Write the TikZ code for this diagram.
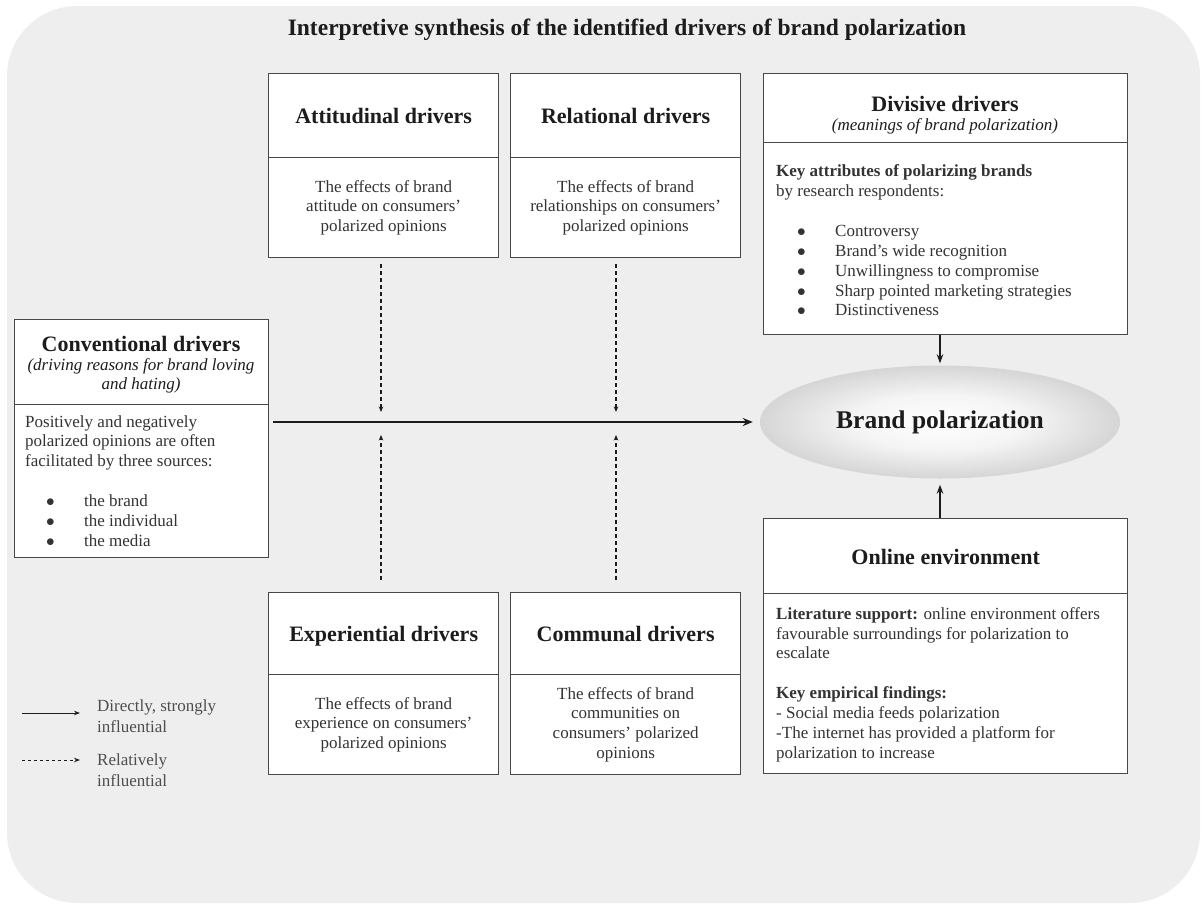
\documentclass[tikz,border=0pt]{standalone}
\usepackage{fontspec}
\setmainfont{Liberation Serif}
\usetikzlibrary{arrows.meta,shapes.geometric}
\definecolor{bgc}{HTML}{EEEEEE}
\definecolor{lnc}{HTML}{484848}
\definecolor{hdc}{HTML}{1C1C1C}
\definecolor{txc}{HTML}{333333}
\definecolor{lgc}{HTML}{4E4E4E}
\pgfdeclareradialshading{ellshade}{\pgfpoint{0bp}{0bp}}{color(0bp)=(white); color(12bp)=(white!96!black); color(50bp)=(black!40); color(100bp)=(black!40)}
\newcommand{\myitem}[1]{\hspace*{21pt}\makebox[38pt][l]{$\bullet$}#1}
\begin{document}
\begin{tikzpicture}[x=1pt,y=-1pt,
  hbox/.style={draw=lnc, line width=1.3pt, fill=white, inner sep=0pt, anchor=north west, align=center, text=hdc, text height=18pt, text depth=2pt, font=\fontsize{22}{25}\selectfont\bfseries},
  mbox/.style={draw=lnc, line width=1.3pt, fill=white, inner sep=0pt, anchor=north west, align=center, text=hdc, font=\fontsize{17}{19.5}\selectfont},
  bbox/.style={draw=lnc, line width=1.3pt, fill=white, inner sep=0pt, anchor=north west, align=center, text=txc, font=\fontsize{17}{19.8}\selectfont},
  bodytext/.style={inner sep=0pt, anchor=north west, align=left, text=txc, font=\fontsize{17}{19.9}\selectfont},
  legtext/.style={inner sep=0pt, anchor=west, align=left, text=lgc, font=\fontsize{17}{20.5}\selectfont},
  mainarrow/.style={draw=hdc, line width=2pt, -{Stealth[length=10pt,width=8pt]}},
  feed/.style={draw=hdc, line width=1.6pt, -{Stealth[length=9pt,width=6.5pt]}},
  relarrow/.style={draw=hdc, line width=1.1pt, dash pattern=on 4pt off 3pt, -{Stealth[length=5.5pt,width=4.5pt]}},
  legsolid/.style={draw=hdc, line width=1pt, -{Stealth[length=6pt,width=4.5pt]}},
  legdash/.style={draw=hdc, line width=1pt, dash pattern=on 3pt off 3pt, -{Stealth[length=6pt,width=4.5pt]}}
]
\useasboundingbox (0,0) rectangle (1203,906);
\fill[bgc, rounded corners=70pt] (7,6) rectangle (1200,903);

% title
\node[text=hdc, font=\fontsize{23.5}{26}\selectfont\bfseries, inner sep=0pt] (title) at (627,30) {Interpretive synthesis of the identified drivers of brand polarization};

% attitudinal
\node[hbox, minimum width=230pt, minimum height=84pt] (atth) at (268,73) {Attitudinal drivers};
\node[bbox, minimum width=230pt, minimum height=100pt] (attb) at (268,157) {The effects of brand\\attitude on consumers’\\polarized opinions};
% relational
\node[hbox, minimum width=230pt, minimum height=84pt] (relh) at (510,73) {Relational drivers};
\node[bbox, minimum width=230pt, minimum height=100pt] (relb) at (510,157) {The effects of brand\\relationships on consumers’\\polarized opinions};
% experiential
\node[hbox, minimum width=230pt, minimum height=82pt] (exph) at (268,592) {Experiential drivers};
\node[bbox, minimum width=230pt, minimum height=100pt] (expb) at (268,674) {The effects of brand\\experience on consumers’\\polarized opinions};
% communal
\node[hbox, minimum width=230pt, minimum height=82pt] (comh) at (510,592) {Communal drivers};
\node[bbox, minimum width=230pt, minimum height=100pt] (comb) at (510,674) {The effects of brand\\communities on\\consumers’ polarized\\opinions};

% divisive
\node[mbox, minimum width=364pt, minimum height=69pt] (divh) at (763,73) {};
\node[mbox, draw=none, fill=none, inner sep=0pt, anchor=center] (divht) at (945,115) {{\fontsize{22}{25}\selectfont\bfseries Divisive drivers}\\[-1pt]\itshape (meanings of brand polarization)};
\node[bbox, minimum width=364pt, minimum height=192pt] (divb) at (763,142) {};
\node[bodytext] (divt) at (776,164.5) {\textbf{Key attributes of polarizing brands}\\by research respondents:\\[19.9pt]\myitem{Controversy}\\\myitem{Brand’s wide recognition}\\\myitem{Unwillingness to compromise}\\\myitem{Sharp pointed marketing strategies}\\\myitem{Distinctiveness}};

% conventional
\node[mbox, minimum width=254pt, minimum height=85pt] (convh) at (14,319) {};
\node[mbox, draw=none, fill=none, inner sep=0pt, anchor=center] (convht) at (141,365) {{\fontsize{22}{25}\selectfont\bfseries Conventional drivers}\\[-1pt]\itshape (driving reasons for brand loving\\\itshape and hating)};
\node[bbox, minimum width=254pt, minimum height=153pt] (convb) at (14,404) {};
\node[bodytext] (convt) at (25,415) {Positively and negatively\\polarized opinions are often\\facilitated by three sources:\\[19.9pt]\myitem{the brand}\\\myitem{the individual}\\\myitem{the media}};

% online environment
\node[hbox, minimum width=364pt, minimum height=75pt] (onlh) at (763,518) {Online environment};
\node[bbox, minimum width=364pt, minimum height=180pt] (onlb) at (763,593) {};
\node[bodytext] (onlt) at (776,607) {\textbf{Literature support:} online environment offers\\favourable surroundings for polarization to\\escalate\\[19.9pt]\textbf{Key empirical findings:}\\- Social media feeds polarization\\-The internet has provided a platform for\\polarization to increase};

% brand polarization
\node[ellipse, minimum width=360pt, minimum height=113pt, inner sep=0pt, shading=ellshade, text=hdc, font=\fontsize{25.5}{28}\selectfont\bfseries] (ell) at (940,422) {Brand polarization};

% connectors
\coordinate (j1) at (381,422);
\coordinate (j2) at (616,422);
\draw[mainarrow, shorten <=4pt, shorten >=7pt] (convb.east |- ell.west) -- (ell.west);
\draw[relarrow, shorten <=6pt, shorten >=10pt] (j1 |- attb.south) -- (j1);
\draw[relarrow, shorten <=6pt, shorten >=10pt] (j2 |- relb.south) -- (j2);
\draw[relarrow, shorten <=12pt, shorten >=13pt] (j1 |- exph.north) -- (j1);
\draw[relarrow, shorten <=12pt, shorten >=13pt] (j2 |- comh.north) -- (j2);
\draw[feed, shorten >=2pt] (divb.south -| ell.north) -- (ell.north);
\draw[feed, shorten >=6pt] (onlh.north -| ell.south) -- (ell.south);

% legend
\coordinate (l1a) at (22,713);
\coordinate (l1b) at (80,713);
\coordinate (l2a) at (22,760);
\coordinate (l2b) at (80,760);
\draw[legsolid] (l1a) -- (l1b);
\draw[legdash] (l2a) -- (l2b);
\node[legtext] (l1t) at (97,716) {Directly, strongly\\influential};
\node[legtext] (l2t) at (97,770) {Relatively\\influential};
\end{tikzpicture}
\end{document}
